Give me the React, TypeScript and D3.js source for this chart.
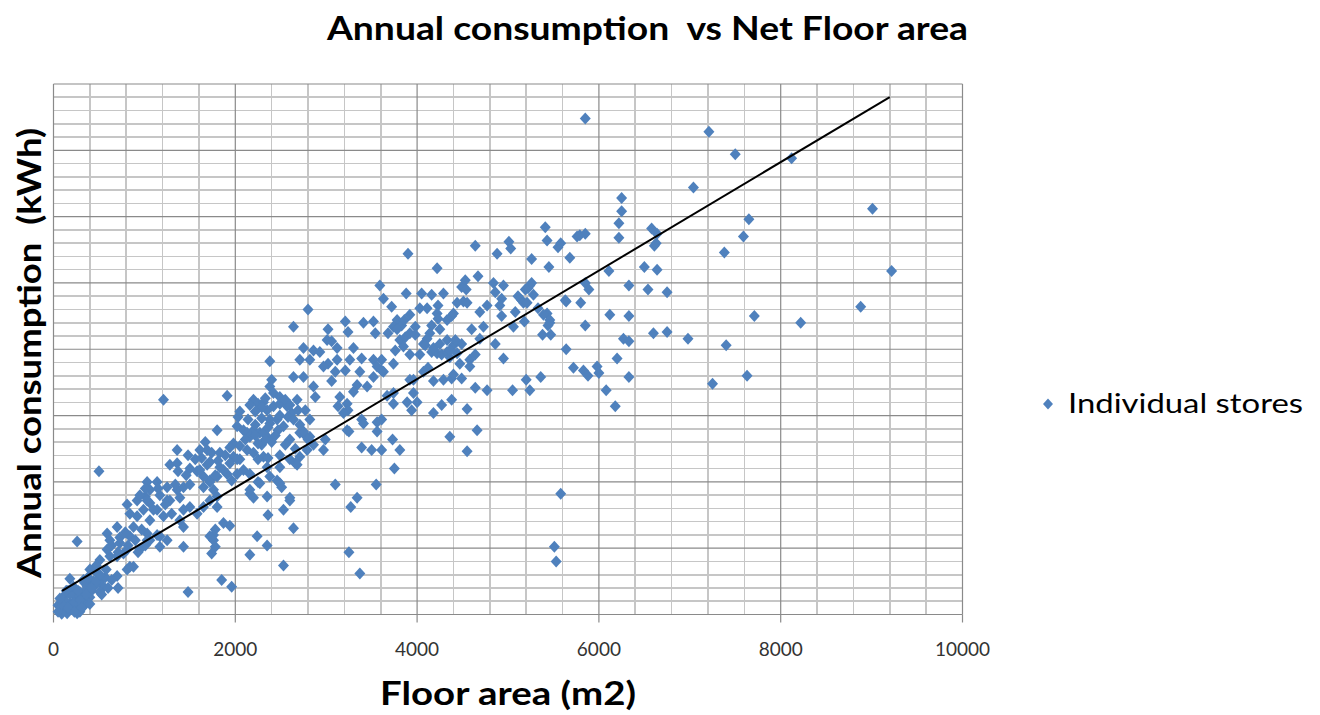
import React from 'react';
import * as d3 from 'd3';

const chartTitle = 'Annual consumption  vs Net Floor area';
const xAxisTitle = 'Floor area (m2)';
const yAxisTitle = 'Annual consumption  (kWh)';
const legendLabel = 'Individual stores';

const xTickValues = [0, 2000, 4000, 6000, 8000, 10000];
const xDomain: [number, number] = [0, 10000];
const xMinorStep = 400;
// consumption in MWh (y tick labels are hidden in the original)
const yDomain: [number, number] = [0, 4000];
const yMinorStep = 100;
const yMajorStep = 500;

// linear trend line: consumption = slope * area + intercept
const trendSlope = 0.409;
const trendIntercept = 139;
const trendRange: [number, number] = [94, 9200];

// [floor area m2, annual consumption MWh]
const stores: [number, number][] = [
  [5850,3740],[7210,3640],[7500,3470],[8120,3440],[7040,3220],[6250,3140],[6250,3040],[6220,2950],[6220,2840],[9010,3060],
  [7650,2980],[7590,2850],[7380,2730],[9220,2590],[6580,2910],[6630,2800],[6610,2780],[6500,2620],[6640,2600],[6110,2590],
  [6330,2480],[6540,2450],[6750,2430],[5850,2500],[5890,2450],[5640,2360],[5800,2350],[6120,2260],[6330,2250],[5850,2180],
  [5380,2110],[5470,2110],[5460,2200],[5430,2270],[6270,2080],[6330,2060],[6600,2120],[6750,2130],[6980,2080],[7400,2030],
  [7710,2250],[8220,2200],[8880,2320],[5640,2000],[6200,1930],[5720,1860],[5830,1840],[5880,1800],[5980,1870],[6000,1820],
  [6330,1790],[5200,1770],[5360,1790],[5240,1690],[6080,1690],[6180,1570],[7250,1740],[7630,1800],
  [5410,2920],[5430,2820],[5550,2770],[5580,2800],[5760,2850],[5790,2860],[5850,2870],[5680,2690],[5260,2680],[5450,2620],
  [5240,2480],[5190,2450],[5280,2410],[5150,2370],[5170,2350],[5330,2310],[5460,2220],[5180,2210],
  [3900,2720],[4220,2610],[4640,2780],[4880,2720],[5010,2810],[5030,2760],[3590,2480],[3630,2380],[3880,2420],[4050,2420],
  [4160,2410],[4290,2420],[4030,2310],[4110,2310],[4230,2330],[4220,2270],[3920,2260],[3780,2220],[3740,2170],[3680,2120],
  [3980,2170],[4160,2180],[4140,2120],[4070,2040],[4330,2220],[4380,2250],[4400,2270],[4490,2470],[4530,2520],[4540,2450],
  [4670,2550],[4510,2360],[4550,2350],[4770,2330],[4690,2280],[4840,2500],[4860,2430],[4950,2480],[4930,2380],[4910,2330],
  [4930,2250],[5080,2280],[5060,2170],[5220,2460],[5260,2500],[5110,2400],[5210,2350],[5390,2260],[5440,2180],[5630,2370],
  [6640,2870],
  [3810,2070],[3870,2090],[3920,2120],[3850,2020],[3760,1990],[3740,1890],[3610,1920],[3630,1830],[4070,1830],[4120,1860],
  [4160,1980],[4220,1970],[4270,1960],[4330,1980],[4360,1940],[4440,1970],[4470,1890],[4580,1920],[4640,1960],[4490,2040],
  [4600,2150],[4730,2170],[4690,2080],[4860,2040],[4950,1930],[4290,1770],[4380,1780],[4490,1780],[4580,1870],[4640,1710],
  [4770,1690],[5050,1690],[3920,1770],[3960,1670],[3890,1600],[3940,1540],[4000,1600],[3740,1590],[3670,1650],[4380,1620],
  [4270,1580],[4180,1520],[4550,1550],[4660,1390],[4360,1340],[3730,1320],[3610,1470],
  [5580,910],[5510,510],[5530,400],[4550,1230],[3100,980],[3550,980],[3340,880],[3270,810],[3250,470],[3370,310],
  [3750,1100],[3810,1240],[3390,1260],[3500,1240],[3610,1240],[3250,1380],[3560,1450],[3560,1380],[3390,1470],[2990,1320],
  [2970,1240],[2860,1280],
  [2800,2300],[2640,2170],[3020,2150],[2380,1910],[1910,1650],[3210,2210],[3410,2200],[3520,2210],[3540,2120],[3240,2130],
  [3010,2070],[3060,2060],[2750,2010],[2860,1990],[2710,1920],[3120,2010],[3300,2010],[3120,1920],[3020,1890],[2970,1870],
  [2640,1790],[2750,1790],[2860,1720],[2880,1640],[3060,1760],[3260,1920],[3390,1930],[3520,1920],[3560,1870],[3610,1840],
  [3720,2320],[3830,2180],[3780,2150],[4230,2230],[4440,2350],[4110,2080],[4180,2010],[4250,2040],[4330,2070],[4400,2030],
  [4360,1990],[3520,1790],[3340,1730],[3300,1680],[3450,1720],[3960,1770],[4180,1760],[4400,1810],[3740,1670],
  [3150,1640],[3230,1590],[3240,1540],[3190,1520],[3130,1570],[3410,1440],[3230,1390],[2710,1370],[2770,1350],[2820,1340],
  [2660,1140],
  [2350,1540],[2420,1570],[2490,1590],[2570,1570],[2620,1520],[2680,1620],[2580,1490],[2530,1420],[2200,1620],[2250,1590],
  [2310,1600],[2290,1560],[2380,1720],[2420,1670],[2400,1770],[2490,1640],[2550,1620],[2380,1440],[2460,1470],[2470,1390],
  [2200,1390],[2270,1370],[2350,1340],[2400,1300],[2290,1280],[2030,1490],[2020,1420],[2090,1390],[2130,1370],[1800,1390],
  [1670,1300],[1690,1240],[1740,1220],[1830,1220],[1980,1290],[2050,1270],[2130,1240],[2200,1220],[2250,1170],[2310,1190],
  [1980,1190],[2050,1170],[2090,1090],[2160,1060],[1830,1110],[1910,1060],[1800,1040],[1720,1010],[1650,960],[2350,1110],
  [2380,1040],[2460,1010],[2510,960],[2160,910],[2270,990],[2710,1190],[2790,1240],[2600,880],
  [500,1080],[260,550],[1210,1620],[1360,1240],[1030,1000],[1140,1000],[1280,1130],[1360,1140],[1370,1080],[1250,960],
  [1360,940],[1430,960],[1500,980],[1580,1080],[1630,1180],[1690,1130],[1650,1040],[1720,1000],[1760,940],[1800,890],
  [1870,1090],[1940,1140],[2020,1170],[2020,1060],[1960,1010],[2160,1340],[2250,1290],[2310,1370],[2600,1580],[2690,1540],
  [2380,1470],[2640,1470],[2750,1380],[2800,1320],[2360,1180],[2490,1110],[2600,1170],[2680,1130],[2250,1000],[2490,990],
  [2160,940],[2200,880],[2350,890],[2600,860],[2530,790],[2360,750],[2640,650],[2350,520],[2240,590],[2160,450],
  [2530,370],[1940,670],[1870,690],[1760,600],[1780,510],[1740,460],[1430,510],[1480,170],[1850,260],[1960,210],
  [1720,590],[1430,660],[1390,710],[1250,560],[1170,590],[1580,760],[1650,810],[1720,860],[1800,810],[1500,810],
  [1060,840],[1140,790],[1250,860],[990,790],[920,740],[880,660],[840,590],[730,540],[810,490],[700,440],
  [620,440],[880,360],[810,340],[700,290],[710,200],[550,210],[510,260],[590,610],[700,660],[790,620],
  [1030,610],[1060,560],[1170,510],[810,830],[840,760],[920,860],[1010,890],[1210,740],[1300,760],[1430,790],
  [400,340],[480,310],[440,250],[330,260],[370,210],[290,170],[400,130],[260,130],[180,80],[110,60],
  [150,10],[260,10],[330,60],[220,210],[180,270],[110,110],
  [70,30],[130,150],[160,180],[200,50],[240,110],[270,70],[290,20],[350,110],[350,180],[380,220],
  [90,5],[50,70],[140,90],[230,150],[310,120],[420,180],[460,220],[510,170],[570,280],
  [620,560],[950,490],[840,360],[770,460],[1030,560],[1140,600],[1060,710],[1760,560],[1780,640],[1030,860],
  [1100,790],[590,490],[510,410],
  // dense core of the cloud
  [1060,940],[1170,900],[1280,860],[1340,980],[1150,950],[1230,830],[1390,880],[950,900],[1010,950],
  [2050,1530],[2140,1470],[2220,1430],[2290,1480],[2360,1410],[2440,1350],[2110,1320],[2220,1530],[2490,1500],[2330,1630],[2160,1580],
  [1480,1200],[1560,1170],[1610,1090],[1720,1150],[1810,1160],[1890,1200],[1940,1260],[1500,1100],[1780,1050],[1610,1240],[1460,1050],
  [640,520],[730,580],[820,520],[900,560],[970,640],[710,470],[930,470],[1010,520],
  [50,20],[90,80],[160,50],[230,90],[290,110],[360,150],[420,200],[470,250],[510,300],[180,150],[270,180],[340,240],
  [380,280],[140,180],[70,120],[230,20],[310,50],[400,80],[530,150],[600,200],[640,260],[580,340],[470,370],
  [2220,1350],[2330,1320],[2600,1320],[2710,1430],[2820,1470],[2770,1540],[2550,1280],[2660,1250],[2490,1200],
  [3860,2220],[3980,2110],[4090,2030],[4250,2150],[4030,1960],[4420,2070],[3920,1960],
  [2820,1920],[2930,1980],[3210,1840],[3370,1830],[3100,1830]
];

const W = 1320;
const H = 715;
const plot = { left: 53.5, right: 962.5, top: 84, bottom: 614.5 };

const MARKER = '#4F81BD';
const GRID_MINOR = '#c6c6c6';
const GRID_MAJOR = '#8a8a8a';
const FONT = 'Lato, "Open Sans", sans-serif';

function diamond(cx: number, cy: number, rx: number, ry: number) {
  return `M${cx},${cy - ry}L${cx + rx},${cy}L${cx},${cy + ry}L${cx - rx},${cy}Z`;
}

export default function App() {
  const x = d3.scaleLinear().domain(xDomain).range([plot.left, plot.right]);
  const y = d3.scaleLinear().domain(yDomain).range([plot.bottom, plot.top]);

  const xMinor = d3.range(xDomain[0], xDomain[1] + 1, xMinorStep).filter((v) => v % 2000 !== 0);
  const yAll = d3.range(yDomain[0], yDomain[1] + 1, yMinorStep);
  const yMinor = yAll.filter((v) => v % yMajorStep !== 0);
  const yMajor = yAll.filter((v) => v % yMajorStep === 0);

  const trendLine = d3
    .line<number>()
    .x((d) => x(d))
    .y((d) => y(trendSlope * d + trendIntercept));

  return (
    <svg
      width={W}
      height={H}
      style={{ position: 'absolute', left: 0, top: 0, background: '#fff' }}
      fontFamily={FONT}
    >
      <rect x={0} y={0} width={W} height={H} fill="#fff" />
      {/* minor grid */}
      <g stroke={GRID_MINOR} strokeWidth={1.6} shapeRendering="crispEdges">
        {xMinor.map((v) => (
          <line key={'xm' + v} x1={x(v)} x2={x(v)} y1={plot.top} y2={plot.bottom} />
        ))}
        {yMinor.map((v) => (
          <line key={'ym' + v} x1={plot.left} x2={plot.right} y1={y(v)} y2={y(v)} />
        ))}
      </g>
      {/* major grid */}
      <g stroke={GRID_MAJOR} strokeWidth={1.2}>
        {xTickValues.map((v) => (
          <line key={'xM' + v} x1={x(v)} x2={x(v)} y1={plot.top} y2={plot.bottom} />
        ))}
        {yMajor.map((v) => (
          <line key={'yM' + v} x1={plot.left} x2={plot.right} y1={y(v)} y2={y(v)} />
        ))}
        {xTickValues.map((v) => (
          <line key={'xt' + v} x1={x(v)} x2={x(v)} y1={plot.bottom} y2={plot.bottom + 8} />
        ))}
      </g>
      {/* tick labels */}
      <g fontSize={19} fill="#333" textAnchor="middle">
        {xTickValues.map((v) => (
          <text key={'xl' + v} x={x(v)} y={656}>
            {v}
          </text>
        ))}
      </g>
      {/* points */}
      <g fill={MARKER}>
        {stores.map((d, i) => (
          <path key={i} d={diamond(x(d[0]), y(d[1]), 5.5, 6)} />
        ))}
      </g>
      {/* trend line */}
      <path d={trendLine(trendRange) || ''} fill="none" stroke="#000" strokeWidth={2} />
      {/* titles */}
      <text
        x={647.5}
        y={40}
        textAnchor="middle"
        fontSize={32}
        fontWeight="bold"
        fill="#000"
        textLength={641}
        lengthAdjust="spacingAndGlyphs"
      >
        {chartTitle.replace('  ', '\u00a0 ')}
      </text>
      <text
        x={508}
        y={705}
        textAnchor="middle"
        fontSize={32}
        fontWeight="bold"
        fill="#000"
        textLength={256}
        lengthAdjust="spacingAndGlyphs"
      >
        {xAxisTitle}
      </text>
      <text
        transform={`translate(41,353) rotate(-90)`}
        textAnchor="middle"
        fontSize={32}
        fontWeight="bold"
        fill="#000"
        textLength={450}
        lengthAdjust="spacingAndGlyphs"
      >
        {yAxisTitle.replace('  ', '\u00a0 ')}
      </text>
      {/* legend */}
      <path d={diamond(1048, 404, 5, 5.5)} fill={MARKER} />
      <text x={1068} y={413} fontSize={27} fill="#000" textLength={235} lengthAdjust="spacingAndGlyphs">
        {legendLabel}
      </text>
    </svg>
  );
}
